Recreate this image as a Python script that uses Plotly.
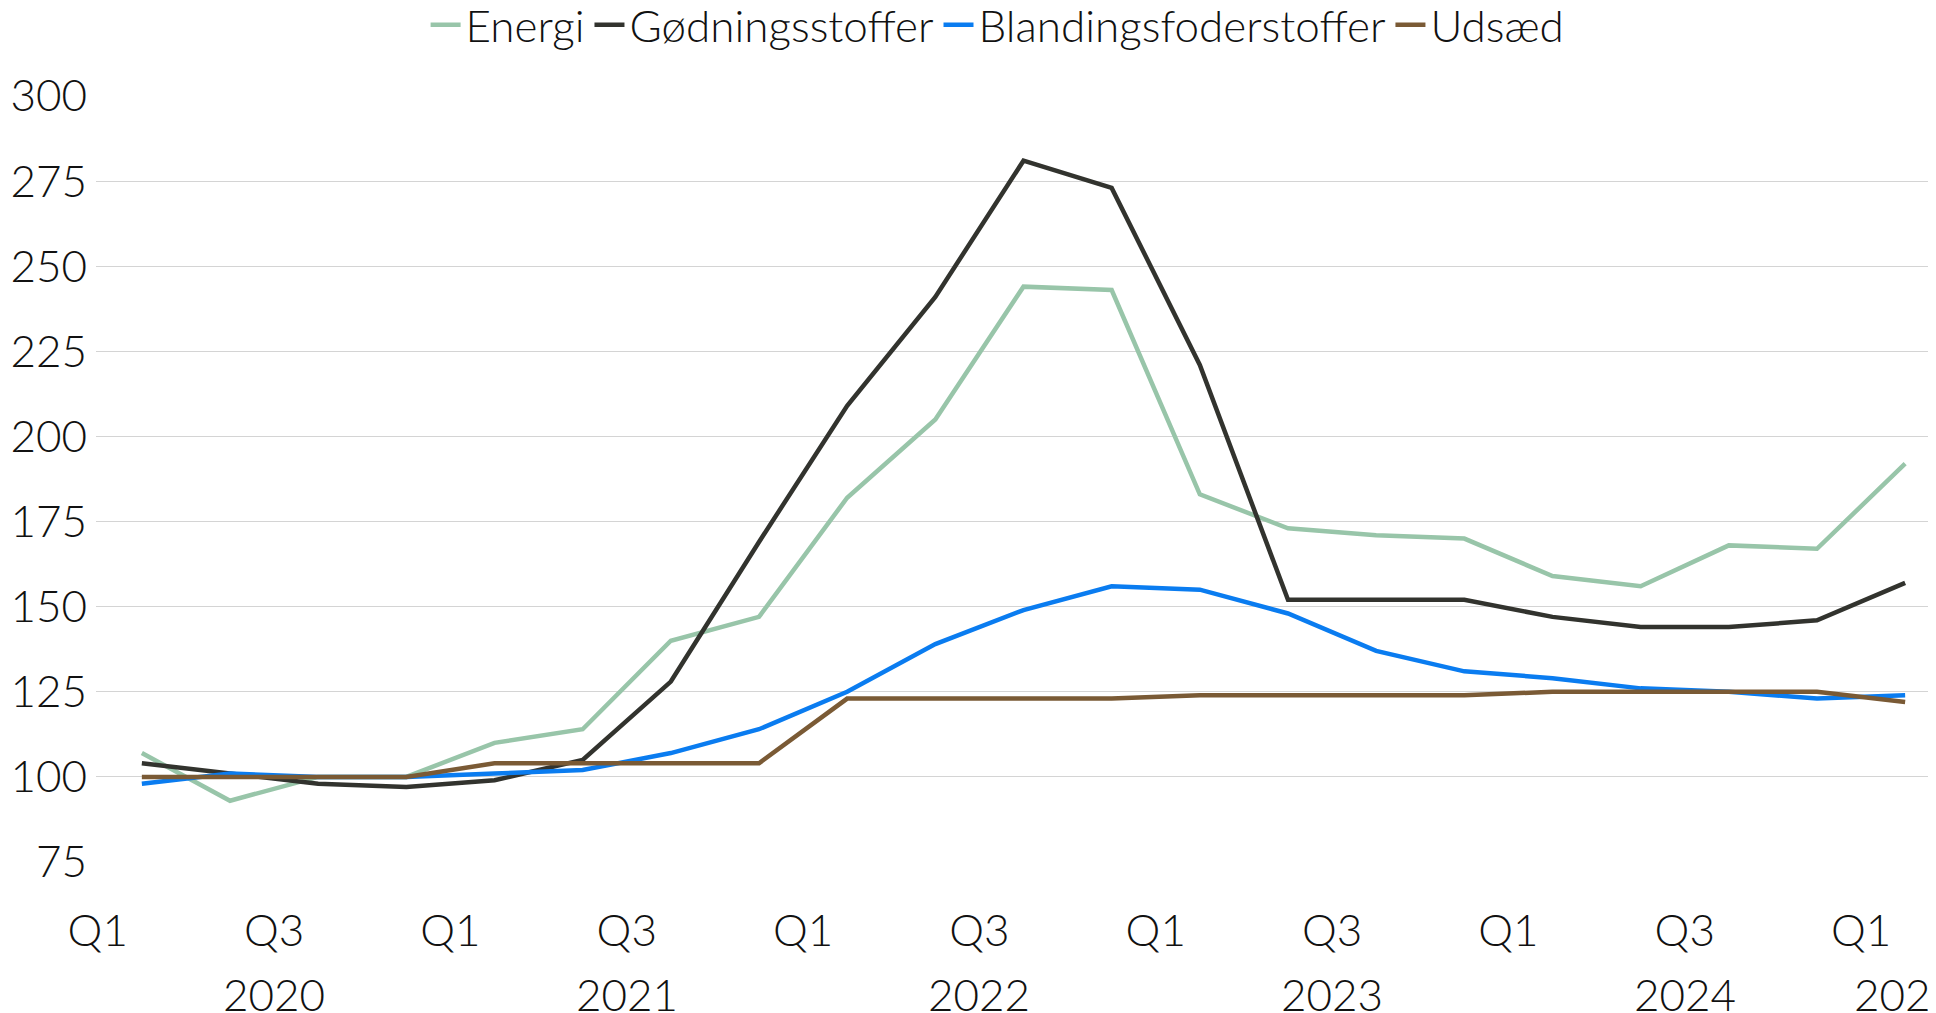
import plotly.graph_objects as go

# Quarterly index values, Q1 2020 .. Q1 2025
quarters = list(range(21))
energi = [107, 93, 100, 100, 110, 114, 140, 147, 182, 205, 244, 243,
          183, 173, 171, 170, 159, 156, 168, 167, 192]
goedning = [104, 101, 98, 97, 99, 105, 128, 169, 209, 241, 281, 273,
            221, 152, 152, 152, 147, 144, 144, 146, 157]
blanding = [98, 101, 100, 100, 101, 102, 107, 114, 125, 139, 149, 156,
            155, 148, 137, 131, 129, 126, 125, 123, 124]
udsaed = [100, 100, 100, 100, 104, 104, 104, 104, 123, 123, 123, 123,
          124, 124, 124, 124, 125, 125, 125, 125, 122]

series_names = ["Energi", "Gødningsstoffer", "Blandingsfoderstoffer", "Udsæd"]
series_colors = ["#98c5a9", "#32332e", "#0a7cf0", "#7a5a35"]

q_tick_pos = [-0.5 + 2 * i for i in range(11)]
q_tick_text = ["Q1" if i % 2 == 0 else "Q3" for i in range(11)]
year_pos = [1.5, 5.5, 9.5, 13.5, 17.5, 20]
year_text = ["2020", "2021", "2022", "2023", "2024", "2025"]

FONT = "Lato, sans-serif"
FSIZE = 44

fig = go.Figure()
for name, vals, color in zip(series_names, [energi, goedning, blanding, udsaed], series_colors):
    fig.add_trace(go.Scatter(
        x=quarters, y=vals, name=name, mode="lines",
        line=dict(color=color, width=4.5),
    ))

# year row under the quarter labels
for pos, txt in zip(year_pos, year_text):
    fig.add_annotation(
        x=pos, y=-0.172, xref="x", yref="paper", text=txt,
        showarrow=False, yanchor="middle", xanchor="center",
        font=dict(family=FONT, size=FSIZE, color="#111111", weight=300),
    )

# page body adds an 8px offset, margins compensate for it
fig.update_layout(
    width=1936, height=1013,
    margin=dict(l=88, r=8, t=88, b=159, autoexpand=False),
    plot_bgcolor="white", paper_bgcolor="white",
    font=dict(family=FONT, size=FSIZE, color="#111111", weight=300),
    legend=dict(
        orientation="h", x=0.49, xanchor="center",
        y=0.983, yanchor="middle", yref="container",
        font=dict(size=FSIZE, weight=300), itemwidth=30, tracegroupgap=0,
    ),
    showlegend=True,
)
fig.update_xaxes(
    range=[-0.52, 20.35], tickvals=q_tick_pos, ticktext=q_tick_text,
    showgrid=False, zeroline=False, showline=False, automargin=False,
    ticks="outside", ticklen=30, tickcolor="rgba(0,0,0,0)",
)
fig.update_yaxes(
    range=[75, 300], dtick=25, tick0=75, automargin=False,
    showgrid=True, gridcolor="#d4d4d4", gridwidth=1,
    zeroline=False, showline=False, ticks="", ticklabelstandoff=8,
)

fig.write_html("out.html")
